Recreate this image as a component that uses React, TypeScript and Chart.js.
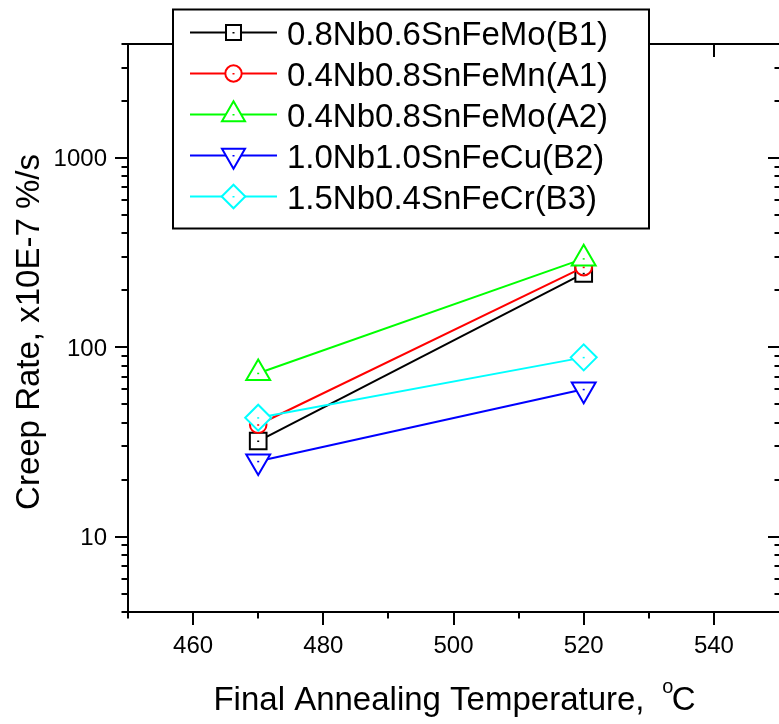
import React, { useEffect, useRef } from 'react';
import { Chart, registerables } from 'chart.js';

Chart.register(...registerables);

// ---------------- data ----------------
const temperatures = [470, 520];
const seriesNames = [
  '0.8Nb0.6SnFeMo(B1)',
  '0.4Nb0.8SnFeMn(A1)',
  '0.4Nb0.8SnFeMo(A2)',
  '1.0Nb1.0SnFeCu(B2)',
  '1.5Nb0.4SnFeCr(B3)',
];
const b1Values = [32, 246];
const a1Values = [39, 265];
const a2Values = [73, 294];
const b2Values = [25, 60];
const b3Values = [42.5, 88.5];
const xTickLabels = [460, 480, 500, 520, 540];
const yTickLabels = [10, 100, 1000];
const xMinorStep = 10;
const yMinorMultipliers = [2, 3, 4, 5, 6, 7, 8, 9];
const xRange = [450, 550];
const yRange = [4, 4000];
const xTitleMain = 'Final Annealing Temperature, ';
const xTitleSup = 'o';
const xTitleUnit = 'C';
const yTitle = 'Creep Rate, x10E-7 %/s';

// ---------------- styles ----------------
const seriesValues = [b1Values, a1Values, a2Values, b2Values, b3Values];
const seriesColors = ['#000000', '#ff0000', '#00ff00', '#0000ff', '#00ffff'];
const seriesShapes = ['rect', 'circle', 'triangle', 'triangle', 'rectRot'];
const seriesRotations = [0, 0, 0, 180, 0];
const plotRadii = [11.8, 8.3, 13.8, 13.8, 13];
const legendRadii = [10.6, 8.2, 13.3, 13.3, 11.8];

const FONT = 'Arial, "Liberation Sans", Helvetica, sans-serif';

function drawMarker(ctx: CanvasRenderingContext2D, shape: string, x: number, y: number, r: number, rotation: number, color: string) {
  ctx.save();
  ctx.beginPath();
  if (shape === 'circle') {
    ctx.arc(x, y, r, 0, Math.PI * 2);
  } else if (shape === 'rect') {
    const s = r * Math.SQRT1_2;
    ctx.rect(x - s, y - s, 2 * s, 2 * s);
  } else if (shape === 'rectRot') {
    ctx.moveTo(x, y - r);
    ctx.lineTo(x + r, y);
    ctx.lineTo(x, y + r);
    ctx.lineTo(x - r, y);
    ctx.closePath();
  } else if (shape === 'triangle') {
    const dir = rotation === 180 ? -1 : 1;
    const w = r * Math.sin(Math.PI / 3);
    ctx.moveTo(x, y - dir * r);
    ctx.lineTo(x + w, y + (dir * r) / 2);
    ctx.lineTo(x - w, y + (dir * r) / 2);
    ctx.closePath();
  }
  ctx.fillStyle = '#ffffff';
  ctx.fill();
  ctx.lineWidth = 2;
  ctx.strokeStyle = color;
  ctx.stroke();
  ctx.fillStyle = color;
  ctx.fillRect(x - 1, y - 0.5, 2, 1.5);
  ctx.restore();
}

const centerDots = {
  id: 'centerDots',
  afterDatasetsDraw(chart: any) {
    const ctx = chart.ctx;
    chart.data.datasets.forEach((ds: any, i: number) => {
      const meta = chart.getDatasetMeta(i);
      meta.data.forEach((pt: any) => {
        ctx.fillStyle = ds.borderColor;
        ctx.fillRect(pt.x - 1, pt.y - 0.5, 2, 1.5);
      });
    });
  },
};

const frame = {
  id: 'frame',
  afterDraw(chart: any) {
    const ctx: CanvasRenderingContext2D = chart.ctx;
    const area = chart.chartArea;
    const xs = chart.scales.x;
    const ys = chart.scales.y;
    const rightX = xs.getPixelForValue(xRange[1]);
    ctx.save();
    ctx.strokeStyle = '#000';
    ctx.fillStyle = '#000';
    ctx.lineWidth = 2;

    // axis lines (the right-hand frame line lies at the canvas edge)
    ctx.beginPath();
    ctx.moveTo(area.left, area.top - 1);
    ctx.lineTo(area.left, area.bottom + 1);
    ctx.moveTo(area.left - 1, area.bottom);
    ctx.lineTo(rightX + 2, area.bottom);
    ctx.moveTo(area.left - 1, area.top);
    ctx.lineTo(rightX + 2, area.top);
    ctx.stroke();

    // x ticks
    ctx.beginPath();
    for (let v = xRange[0]; v < xRange[1]; v += xMinorStep) {
      const px = Math.round(xs.getPixelForValue(v));
      const major = xTickLabels.includes(v);
      const len = major ? 13 : 6.5;
      ctx.moveTo(px, area.bottom);
      ctx.lineTo(px, area.bottom + len);
      ctx.moveTo(px, area.top);
      ctx.lineTo(px, area.top + len);
    }
    // y ticks
    for (let d = 1; d <= 1000; d *= 10) {
      const vals = [d, ...yMinorMultipliers.map((m) => m * d)];
      vals.forEach((v) => {
        if (v < yRange[0] || v > yRange[1]) return;
        const py = Math.round(ys.getPixelForValue(v));
        const major = yTickLabels.includes(v);
        const len = major ? 13 : 6.5;
        ctx.moveTo(area.left, py);
        ctx.lineTo(area.left - len, py);
        ctx.moveTo(rightX + 2, py);
        ctx.lineTo(rightX + 2 - len, py);
      });
    }
    ctx.stroke();

    // tick labels
    ctx.font = `24px ${FONT}`;
    ctx.textAlign = 'center';
    ctx.textBaseline = 'alphabetic';
    xTickLabels.forEach((v) => {
      ctx.fillText(String(v), xs.getPixelForValue(v), area.bottom + 41);
    });
    ctx.textAlign = 'right';
    yTickLabels.forEach((v) => {
      ctx.fillText(String(v), area.left - 21, ys.getPixelForValue(v) + 8.5);
    });

    // x title with superscript degree
    ctx.font = `33px ${FONT}`;
    const w1 = ctx.measureText(xTitleMain).width;
    const w3 = ctx.measureText(xTitleUnit).width;
    const cOffset = 18;
    const total = w1 + cOffset + w3;
    const cx = 455.5;
    const x0 = cx - total / 2 - 1;
    ctx.textAlign = 'left';
    ctx.fillText(xTitleMain, x0, 710);
    ctx.fillText(xTitleUnit, x0 + w1 + cOffset, 710);
    ctx.font = `20px ${FONT}`;
    ctx.fillText(xTitleSup, x0 + w1 + 8.5, 693);

    // y title
    ctx.save();
    ctx.font = `33px ${FONT}`;
    ctx.translate(39, 332);
    ctx.rotate(-Math.PI / 2);
    ctx.textAlign = 'center';
    ctx.fillText(yTitle, 0, 0);
    ctx.restore();

    // legend
    const lx = 173, ly = 9.5, lw = 476, lh = 219;
    ctx.fillStyle = '#fff';
    ctx.fillRect(lx, ly, lw, lh);
    ctx.strokeStyle = '#000';
    ctx.lineWidth = 2;
    ctx.strokeRect(lx, ly, lw, lh);
    ctx.font = `33px ${FONT}`;
    ctx.textAlign = 'left';
    seriesNames.forEach((name, i) => {
      const ry = 32.5 + i * 41;
      ctx.strokeStyle = seriesColors[i];
      ctx.lineWidth = 2;
      ctx.beginPath();
      ctx.moveTo(190, ry);
      ctx.lineTo(277, ry);
      ctx.stroke();
      drawMarker(ctx, seriesShapes[i], 233.5, ry, legendRadii[i], seriesRotations[i], seriesColors[i]);
      ctx.fillStyle = '#000';
      ctx.fillText(name, 287, ry + 12.7);
    });
    ctx.restore();
  },
};

export default function App() {
  const canvasRef = useRef<HTMLCanvasElement | null>(null);

  useEffect(() => {
    const canvas = canvasRef.current;
    if (!canvas) return;
    const datasets = seriesNames.map((name, i) => ({
      label: name,
      data: temperatures.map((t, j) => ({ x: t, y: seriesValues[i][j] })),
      borderColor: seriesColors[i],
      backgroundColor: seriesColors[i],
      borderWidth: 2,
      pointStyle: seriesShapes[i] as any,
      pointRotation: seriesRotations[i],
      pointRadius: plotRadii[i],
      pointBorderWidth: 2,
      pointBorderColor: seriesColors[i],
      pointBackgroundColor: '#ffffff',
      order: seriesNames.length - i,
      tension: 0,
      fill: false,
      clip: false as any,
    }));
    const chart = new Chart(canvas, {
      type: 'line',
      data: { datasets },
      options: {
        animation: false,
        responsive: false,
        devicePixelRatio: 1,
        events: [],
        layout: { autoPadding: false, padding: { left: 128, top: 44, right: 0, bottom: 112 } },
        plugins: { legend: { display: false }, tooltip: { enabled: false }, title: { display: false } },
        scales: {
          x: { type: 'linear', min: xRange[0], max: xRange[1], display: false },
          y: { type: 'logarithmic', min: yRange[0], max: yRange[1], display: false },
        },
      },
      plugins: [centerDots, frame],
    });
    return () => chart.destroy();
  }, []);

  return (
    <div style={{ position: 'absolute', left: 0, top: 0, width: 779, height: 724, background: '#fff' }}>
      <canvas ref={canvasRef} width={779} height={724} style={{ display: 'block' }} />
    </div>
  );
}
